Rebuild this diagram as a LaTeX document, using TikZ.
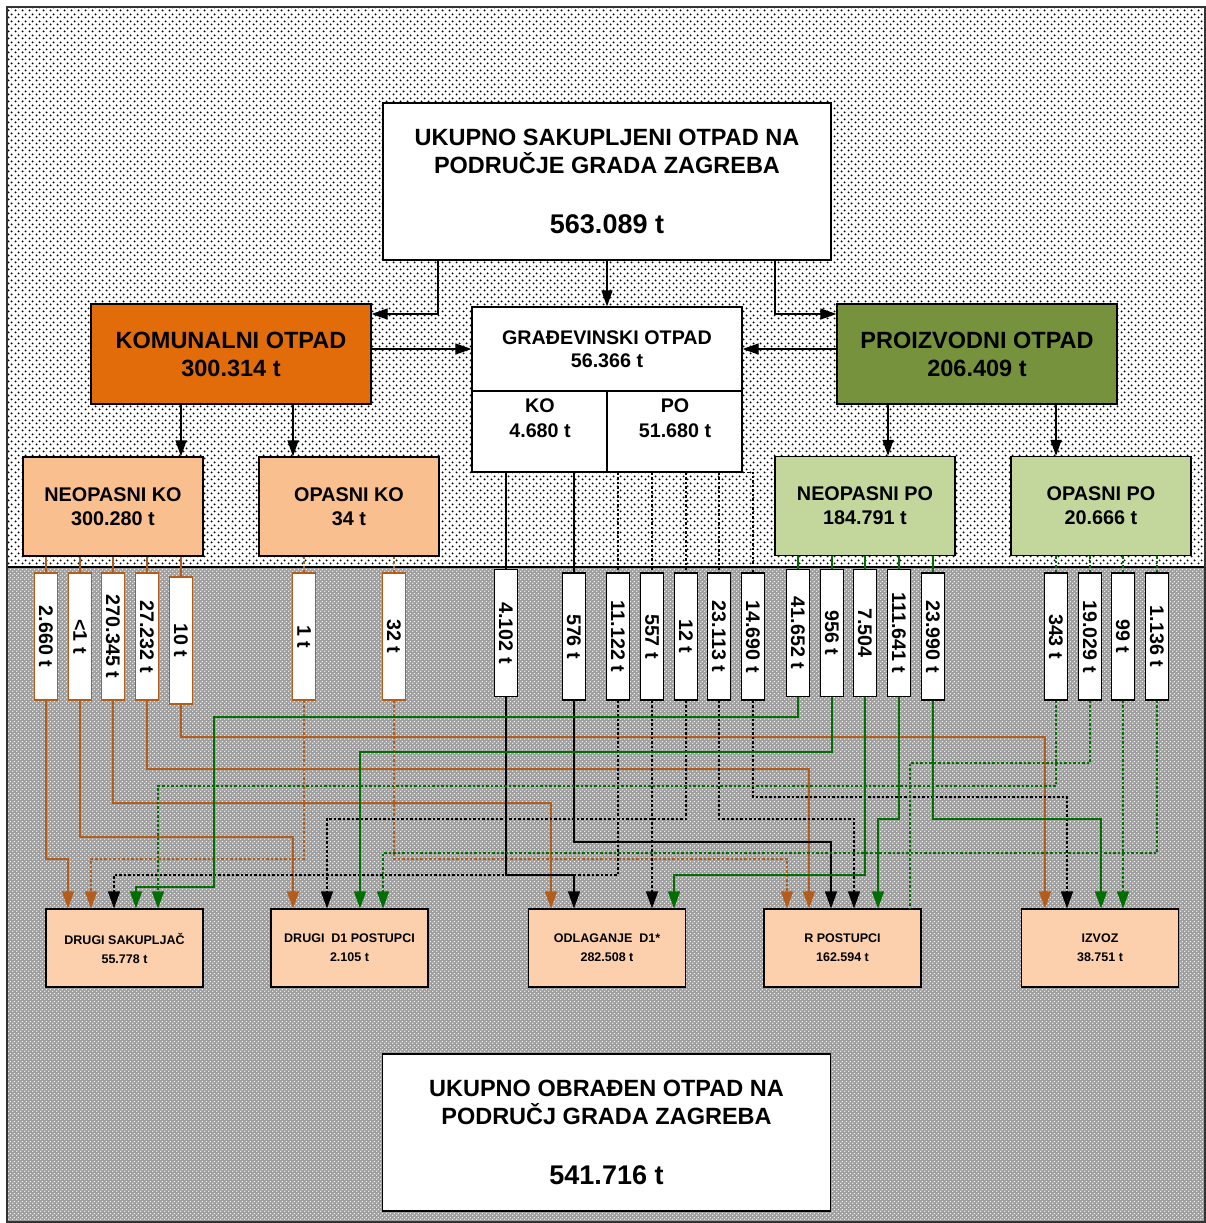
\documentclass[tikz,border=0pt]{standalone}
\usepackage{fontspec}
\setmainfont{Liberation Sans}
\usetikzlibrary{arrows.meta, patterns, patterns.meta, positioning}
\definecolor{komcolor}{RGB}{226,107,10}
\definecolor{procolor}{RGB}{118,146,60}
\definecolor{kolight}{RGB}{250,191,143}
\definecolor{polight}{RGB}{195,214,155}
\definecolor{endcolor}{RGB}{252,208,172}
\definecolor{brownline}{RGB}{180,92,28}
\definecolor{greenline}{RGB}{0,110,0}

\pgfdeclarepattern{
  name=topdots, type=uncolored,
  bottom left={\pgfpoint{0pt}{0pt}}, top right={\pgfpoint{7pt}{7pt}},
  tile size={\pgfpoint{7pt}{7pt}},
  code={\pgfpathcircle{\pgfpoint{1.75pt}{1.75pt}}{1.15pt}\pgfpathcircle{\pgfpoint{5.25pt}{5.25pt}}{1.15pt}\pgfusepath{fill}}
}
\pgfdeclarepattern{
  name=lowdots, type=uncolored,
  bottom left={\pgfpoint{0pt}{0pt}}, top right={\pgfpoint{4pt}{4pt}},
  tile size={\pgfpoint{4pt}{4pt}},
  code={\pgfpathcircle{\pgfpoint{1pt}{1pt}}{0.85pt}\pgfpathcircle{\pgfpoint{3pt}{3pt}}{0.85pt}\pgfusepath{fill}}
}

\begin{document}
\begin{tikzpicture}[
    x=1pt, y=-1pt,
    box/.style={draw, line width=1.2pt, inner sep=0pt, align=center, font=\bfseries\fontsize{23.5}{28}\selectfont},
    sumbox/.style={box, fill=white, minimum width=448pt, minimum height=157pt},
    mainbox/.style={box, minimum width=280pt, minimum height=100pt},
    subbox/.style={box, minimum width=180pt, minimum height=99pt, font=\bfseries\fontsize{19.8}{24}\selectfont},
    gobox/.style={box, fill=white, font=\bfseries\fontsize{19.7}{23}\selectfont},
    gotext/.style={align=center, inner sep=0pt, font=\bfseries\fontsize{19.7}{25}\selectfont},
    valbox/.style={draw, line width=1.2pt, fill=white, inner sep=0pt, minimum width=23pt, minimum height=127pt, font=\bfseries\fontsize{19.7}{23}\selectfont},
    endbox/.style={box, fill=endcolor, minimum width=157pt, minimum height=78pt, font=\bfseries\fontsize{12.5}{19}\selectfont},
    arrow/.style={-{Triangle[length=16pt, width=11pt]}, line width=1.2pt},
    flowtip/.style={-{Triangle[length=17pt, width=12pt]}},
    brownsolid/.style={brownline, line width=1.4pt},
    browndot/.style={brownline, line width=1.4pt, dash pattern=on 2.5pt off 2pt},
    blacksolid/.style={black, line width=1.4pt},
    blackdot/.style={black, line width=1.4pt, dash pattern=on 2.5pt off 2pt},
    greensolid/.style={greenline, line width=1.4pt},
    greendot/.style={greenline, line width=1.4pt, dash pattern=on 2.5pt off 2pt}
]
    \useasboundingbox (0,0) rectangle (1206,1223);

    % Background
    \fill[white] (7,7) rectangle (1205,567);
    \fill[pattern=topdots, pattern color=black] (7,7) rectangle (1205,567);
    \fill[black!38] (7,567) rectangle (1205,1222);
    \fill[pattern=lowdots, pattern color=white] (7,567) rectangle (1205,1222);
    \draw[line width=1.2pt] (7,567) -- (1205,567);
    \draw[line width=2.5pt, black!80] (7,7) rectangle (1205,1222);

    % Totals and main groups
    \node[sumbox] (total) at (607,181.5) {UKUPNO SAKUPLJENI OTPAD NA\\PODRUČJE GRADA ZAGREBA\\[32pt]{\fontsize{27}{32}\selectfont 563.089 t}};
    \node[mainbox, fill=komcolor] (kom) at (231,354) {KOMUNALNI OTPAD\\300.314 t};
    \node[mainbox, fill=procolor] (pro) at (977,354) {PROIZVODNI OTPAD\\206.409 t};
    \node[gobox, minimum width=270pt, minimum height=84pt] (go) at (607,349) {GRAĐEVINSKI OTPAD\\56.366 t};
    \node[gobox, minimum width=135pt, minimum height=81pt] (goko) at (539.5,431.5) {};
    \node[gobox, minimum width=135pt, minimum height=81pt] (gopo) at (674.5,431.5) {};
    \node[gotext] (gokotxt) at (540,418.5) {KO\\4.680 t};
    \node[gotext] (gopotxt) at (675,418.5) {PO\\51.680 t};

    % Sub groups
    \node[subbox, fill=kolight] (neoko) at (113,506.5) {NEOPASNI KO\\300.280 t};
    \node[subbox, fill=kolight] (opko) at (349,506.5) {OPASNI KO\\34 t};
    \node[subbox, fill=polight] (neopo) at (865,506) {NEOPASNI PO\\184.791 t};
    \node[subbox, fill=polight] (oppo) at (1101,506) {OPASNI PO\\20.666 t};

    % Amounts
    \node[valbox, draw=brownline] (ko1) at (46,636.5) {\rotatebox{-90}{2.660 t}};
    \node[valbox, draw=brownline] (ko2) at (80,636.5) {\rotatebox{-90}{<1 t}};
    \node[valbox, draw=brownline] (ko3) at (113,636.5) {\rotatebox{-90}{270.345 t}};
    \node[valbox, draw=brownline] (ko4) at (147,636.5) {\rotatebox{-90}{27.232 t}};
    \node[valbox, draw=brownline] (ko5) at (181,640.5) {\rotatebox{-90}{10 t}};
    \node[valbox, draw=brownline] (oko1) at (304,636.5) {\rotatebox{-90}{1 t}};
    \node[valbox, draw=brownline] (oko2) at (394,636.5) {\rotatebox{-90}{32 t}};
    \node[valbox] (gk1) at (506,633) {\rotatebox{-90}{4.102 t}};
    \node[valbox] (gk2) at (574,636.5) {\rotatebox{-90}{576 t}};
    \node[valbox] (gp1) at (618,636.5) {\rotatebox{-90}{11.122 t}};
    \node[valbox] (gp2) at (652,636.5) {\rotatebox{-90}{557 t}};
    \node[valbox] (gp3) at (686,636.5) {\rotatebox{-90}{12 t}};
    \node[valbox] (gp4) at (719,636.5) {\rotatebox{-90}{23.113 t}};
    \node[valbox] (gp5) at (753,636.5) {\rotatebox{-90}{14.690 t}};
    \node[valbox] (po1) at (798,633) {\rotatebox{-90}{41.652 t}};
    \node[valbox] (po2) at (832,633) {\rotatebox{-90}{956 t}};
    \node[valbox] (po3) at (865,633) {\rotatebox{-90}{7.504}};
    \node[valbox] (po4) at (899,633) {\rotatebox{-90}{111.641 t}};
    \node[valbox] (po5) at (933,636.5) {\rotatebox{-90}{23.990 t}};
    \node[valbox] (opo1) at (1056,636.5) {\rotatebox{-90}{343 t}};
    \node[valbox] (opo2) at (1090,636.5) {\rotatebox{-90}{19.029 t}};
    \node[valbox] (opo3) at (1123,636.5) {\rotatebox{-90}{99 t}};
    \node[valbox] (opo4) at (1157,636.5) {\rotatebox{-90}{1.136 t}};

    % Treatment
    \node[endbox] (ds) at (124.5,948) {DRUGI SAKUPLJAČ\\55.778 t};
    \node[endbox] (d1) at (349.5,948) {DRUGI \ D1 POSTUPCI\\2.105 t};
    \node[endbox] (od) at (607,948) {ODLAGANJE \ D1*\\282.508 t};
    \node[endbox] (rp) at (842.5,948) {R POSTUPCI\\162.594 t};
    \node[endbox] (iz) at (1100,948) {IZVOZ\\38.751 t};
    \node[sumbox] (treated) at (606.5,1132.5) {UKUPNO OBRAĐEN OTPAD NA\\PODRUČJ GRADA ZAGREBA\\[32pt]{\fontsize{27}{32}\selectfont 541.716 t}};

    % Arrows between groups
    \draw[arrow] (438,0 |- total.south) |- (kom.east |- 0,314);
    \draw[arrow] (total.south) -- (go.north);
    \draw[arrow] (775,0 |- total.south) |- (pro.west |- 0,314);
    \draw[arrow] (kom.east |- 0,349) -- (go.west |- 0,349);
    \draw[arrow] (pro.west |- 0,349) -- (go.east |- 0,349);
    \draw[arrow] (181,0 |- kom.south) -- (181,0 |- neoko.north);
    \draw[arrow] (293,0 |- kom.south) -- (293,0 |- opko.north);
    \draw[arrow] (888,0 |- pro.south) -- (888,0 |- neopo.north);
    \draw[arrow] (1056,0 |- pro.south) -- (1056,0 |- oppo.north);

    % Feeds into amounts
    \draw[brownsolid] (ko1.north |- neoko.south) -- (ko1.north);
    \draw[brownsolid] (ko2.north |- neoko.south) -- (ko2.north);
    \draw[brownsolid] (ko3.north |- neoko.south) -- (ko3.north);
    \draw[brownsolid] (ko4.north |- neoko.south) -- (ko4.north);
    \draw[brownsolid] (ko5.north |- neoko.south) -- (ko5.north);
    \draw[browndot] (oko1.north |- opko.south) -- (oko1.north);
    \draw[browndot] (oko2.north |- opko.south) -- (oko2.north);
    \draw[blacksolid] (gk1.north |- goko.south) -- (gk1.north);
    \draw[blacksolid] (gk2.north |- goko.south) -- (gk2.north);
    \draw[blackdot] (gp1.north |- gopo.south) -- (gp1.north);
    \draw[blackdot] (gp2.north |- gopo.south) -- (gp2.north);
    \draw[blackdot] (gp3.north |- gopo.south) -- (gp3.north);
    \draw[blackdot] (gp4.north |- gopo.south) -- (gp4.north);
    \draw[blackdot] (gopo.south east) -| (gp5.north);
    \draw[greensolid] (po1.north |- neopo.south) -- (po1.north);
    \draw[greensolid] (po2.north |- neopo.south) -- (po2.north);
    \draw[greensolid] (po3.north |- neopo.south) -- (po3.north);
    \draw[greensolid] (po4.north |- neopo.south) -- (po4.north);
    \draw[greensolid] (po5.north |- neopo.south) -- (po5.north);
    \draw[greendot] (opo1.north |- oppo.south) -- (opo1.north);
    \draw[greendot] (opo2.north |- oppo.south) -- (opo2.north);
    \draw[greendot] (opo3.north |- oppo.south) -- (opo3.north);
    \draw[greendot] (opo4.north |- oppo.south) -- (opo4.north);

    % Flows to treatment
    \draw[brownsolid, flowtip] (ko1.south) |- (68,859) -- (ds.north -| 68,0);
    \draw[brownsolid, flowtip] (ko2.south) |- (293,837) -- (d1.north -| 293,0);
    \draw[brownsolid, flowtip] (ko3.south) |- (551,803) -- (od.north -| 551,0);
    \draw[brownsolid, flowtip] (ko4.south) |- (809,769) -- (rp.north -| 809,0);
    \draw[brownsolid, flowtip] (ko5.south) |- (1045,737) -- (iz.north -| 1045,0);
    \draw[browndot, flowtip] (oko1.south) |- (91,859) -- (ds.north -| 91,0);
    \draw[browndot, flowtip] (oko2.south) |- (787,859) -- (rp.north -| 787,0);
    \draw[blacksolid, flowtip] (gk1.south) |- (574,875) -- (od.north -| 574,0);
    \draw[blacksolid, flowtip] (gk2.south) |- (831,842) -- (rp.north -| 831,0);
    \draw[blackdot, flowtip] (gp1.south) |- (114,875) -- (ds.north -| 114,0);
    \draw[blackdot, flowtip] (gp2.south) -- (od.north -| gp2.south);
    \draw[blackdot, flowtip] (gp3.south) |- (327,819) -- (d1.north -| 327,0);
    \draw[blackdot, flowtip] (gp4.south) |- (854,819) -- (rp.north -| 854,0);
    \draw[blackdot, flowtip] (gp5.south) |- (1067,797) -- (iz.north -| 1067,0);
    \draw[greensolid, flowtip] (po1.south) |- (214,717) |- (136,887) -- (ds.north -| 136,0);
    \draw[greensolid, flowtip] (po2.south) |- (360,752) -- (d1.north -| 360,0);
    \draw[greensolid, flowtip] (po3.south) |- (674,875) -- (od.north -| 674,0);
    \draw[greensolid, flowtip] (po4.south) |- (878,819) -- (rp.north -| 878,0);
    \draw[greensolid, flowtip] (po5.south) |- (1101,819) -- (iz.north -| 1101,0);
    \draw[greendot, flowtip] (opo1.south) |- (158,786) -- (ds.north -| 158,0);
    \draw[greendot] (opo2.south) |- (910,763) -- (rp.north -| 910,0);
    \draw[greendot, flowtip] (opo3.south) -- (iz.north -| opo3.south);
    \draw[greendot, flowtip] (opo4.south) |- (383,853) -- (d1.north -| 383,0);
\end{tikzpicture}
\end{document}
